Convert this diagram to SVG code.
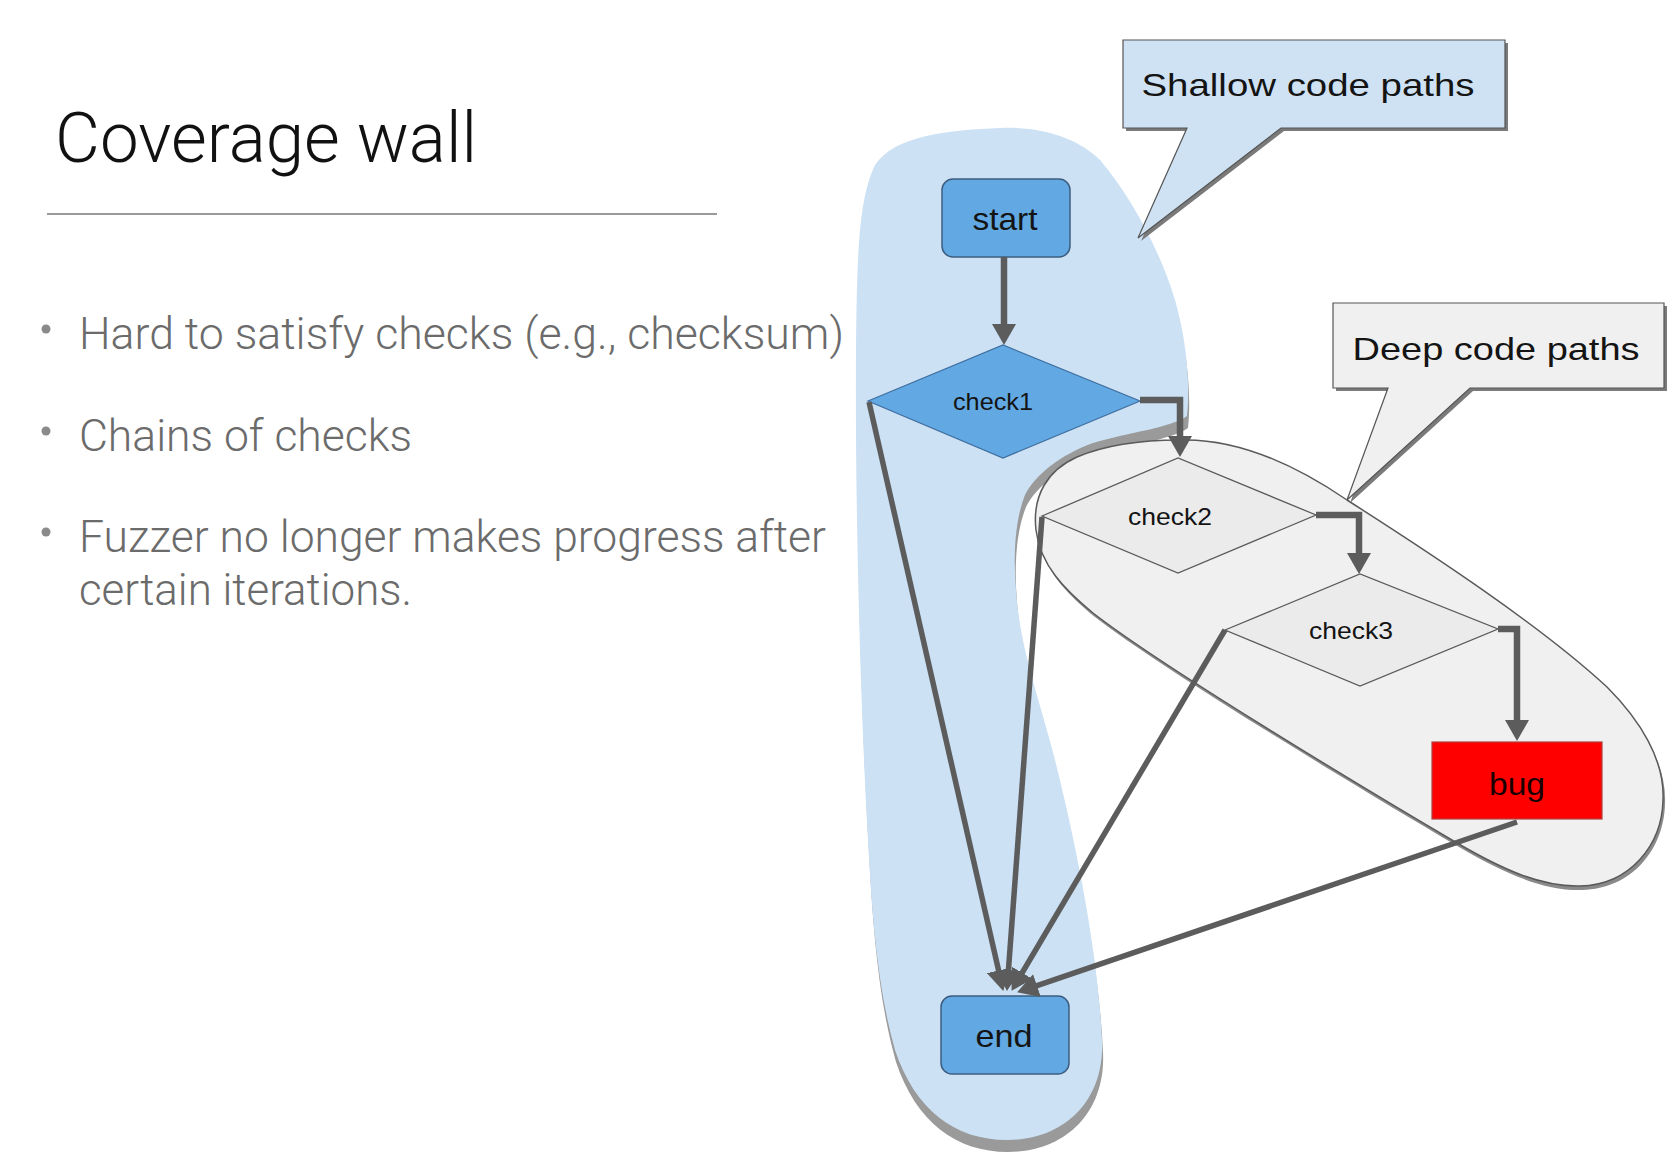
<svg xmlns="http://www.w3.org/2000/svg" width="1678" height="1164" viewBox="0 0 1678 1164">
<defs>
<style>
.title{font-family:Roboto,"Liberation Sans",sans-serif;font-weight:300;font-size:70px;fill:#111}
.bullet{font-family:Roboto,"Liberation Sans",sans-serif;font-weight:300;font-size:45px;fill:#6b6b6b}
.dot{fill:#8a8a8a}
.lbl{font-family:"Liberation Sans",Arial,sans-serif;fill:#141414;text-anchor:middle}
.blue{fill:#62a9e3;stroke:#3d5d80;stroke-width:1.5}
.dia{fill:#ebebeb;stroke:#5a5a5a;stroke-width:1.3}
.edge{fill:none;stroke:#5c5c5c;stroke-linejoin:miter}
.elbow{stroke-width:6.5}
.diag{stroke-width:5.5}
</style>
<marker id="arr" markerUnits="userSpaceOnUse" markerWidth="24" markerHeight="24" refX="10" refY="12" orient="auto">
<path d="M0,0 L21,12 L0,24 z" fill="#5c5c5c"/>
</marker>
</defs>
<rect width="1678" height="1164" fill="#fff"/>

<g id="slide-text">
<text class="title" x="55" y="162" textLength="422" lengthAdjust="spacingAndGlyphs">Coverage wall</text>
<line x1="47" y1="214" x2="717" y2="214" stroke="#9a9a9a" stroke-width="2"/>
<circle class="dot" cx="46" cy="329" r="4.5"/>
<text class="bullet" x="79" y="349" textLength="765" lengthAdjust="spacingAndGlyphs">Hard to satisfy checks (e.g., checksum)</text>
<circle class="dot" cx="46" cy="431" r="4.5"/>
<text class="bullet" x="79" y="451" textLength="333" lengthAdjust="spacingAndGlyphs">Chains of checks</text>
<circle class="dot" cx="46" cy="532" r="4.5"/>
<text class="bullet" x="79" y="552" textLength="747" lengthAdjust="spacingAndGlyphs">Fuzzer no longer makes progress after</text>
<text class="bullet" x="79" y="605" textLength="333" lengthAdjust="spacingAndGlyphs">certain iterations.</text>
</g>

<g id="region-shallow">
<path transform="translate(1,12)" fill="#9a9a9a" d="M1000,128 C1045,126 1080,140 1100,160 C1130,195 1160,250 1175,300 C1188,345 1190,390 1187,416 C1170,428 1130,432 1093,443 C1060,455 1035,475 1025,495 C1015,520 1013,555 1016,590 C1020,650 1040,700 1055,760 C1075,840 1098,950 1102,1040 C1105,1100 1065,1140 1007,1140 C955,1140 915,1110 895,1050 C878,990 872,920 868,840 C860,700 855,500 856,350 C857,260 858,200 875,165 C895,135 950,130 1000,128 Z"/>
<path fill="#cce1f4" d="M1000,128 C1045,126 1080,140 1100,160 C1130,195 1160,250 1175,300 C1188,345 1190,390 1187,416 C1170,428 1130,432 1093,443 C1060,455 1035,475 1025,495 C1015,520 1013,555 1016,590 C1020,650 1040,700 1055,760 C1075,840 1098,950 1102,1040 C1105,1100 1065,1140 1007,1140 C955,1140 915,1110 895,1050 C878,990 872,920 868,840 C860,700 855,500 856,350 C857,260 858,200 875,165 C895,135 950,130 1000,128 Z"/>
</g>

<g id="region-deep">
<path transform="translate(2,4)" fill="#8a8a8a" d="M1180,440 C1240,438 1300,468 1347,500 C1430,553 1540,625 1607,687 C1640,720 1665,760 1663,800 C1662,845 1630,885 1580,886 C1540,887 1500,868 1457,843 C1350,780 1160,665 1093,613 C1065,590 1040,565 1036,530 C1032,495 1048,470 1077,457 C1110,443 1150,440 1180,440 Z"/>
<path fill="#f0f0f0" stroke="#5a5a5a" stroke-width="1.5" d="M1180,440 C1240,438 1300,468 1347,500 C1430,553 1540,625 1607,687 C1640,720 1665,760 1663,800 C1662,845 1630,885 1580,886 C1540,887 1500,868 1457,843 C1350,780 1160,665 1093,613 C1065,590 1040,565 1036,530 C1032,495 1048,470 1077,457 C1110,443 1150,440 1180,440 Z"/>
</g>

<g id="callout-shallow">
<path transform="translate(3,3)" fill="#7a7a7a" d="M1123,40 H1505 V128 H1281 L1138,238 L1187,128 H1123 Z"/>
<path fill="#cfe2f3" stroke="#555" stroke-width="1.2" d="M1123,40 H1505 V128 H1281 L1138,238 L1187,128 H1123 Z"/>
<text class="lbl" x="1308" y="96" font-size="32" textLength="333" lengthAdjust="spacingAndGlyphs">Shallow code paths</text>
</g>

<g id="callout-deep">
<path transform="translate(3,3)" fill="#7a7a7a" d="M1333,303 H1664 V388 H1470 L1347,500 L1388,388 H1333 Z"/>
<path fill="#f0f0f0" stroke="#555" stroke-width="1.2" d="M1333,303 H1664 V388 H1470 L1347,500 L1388,388 H1333 Z"/>
<text class="lbl" x="1496" y="360" font-size="32" textLength="287" lengthAdjust="spacingAndGlyphs">Deep code paths</text>
</g>

<g id="node-start">
<rect class="blue" x="942" y="179" width="128" height="78" rx="11"/>
<text class="lbl" x="1005" y="230" font-size="32" textLength="65" lengthAdjust="spacingAndGlyphs">start</text>
</g>

<g id="node-check1">
<polygon class="blue" points="868,401 1003,345 1140,401 1003,458" style="stroke:#3f6fa0;stroke-width:1.2"/>
<text class="lbl" x="993" y="410" font-size="24" textLength="80" lengthAdjust="spacingAndGlyphs">check1</text>
</g>

<g id="node-check2">
<polygon class="dia" points="1042,516 1178,458 1316,515 1178,573"/>
<text class="lbl" x="1170" y="525" font-size="24" textLength="84" lengthAdjust="spacingAndGlyphs">check2</text>
</g>

<g id="node-check3">
<polygon class="dia" points="1225,630 1360,574 1498,629 1360,686"/>
<text class="lbl" x="1351" y="639" font-size="24" textLength="84" lengthAdjust="spacingAndGlyphs">check3</text>
</g>

<g id="node-bug">
<rect x="1432" y="742" width="170" height="77" fill="#ff0000" stroke="#b04040" stroke-width="1.2"/>
<text class="lbl" x="1517" y="795" font-size="32" textLength="56" lengthAdjust="spacingAndGlyphs" style="fill:#1a0000">bug</text>
</g>

<g id="node-end">
<rect class="blue" x="941" y="996" width="128" height="78" rx="11"/>
<text class="lbl" x="1004" y="1047" font-size="32" textLength="57" lengthAdjust="spacingAndGlyphs">end</text>
</g>

<g id="connectors">
<path class="edge elbow" marker-end="url(#arr)" d="M1004,257 L1004,334"/>
<path class="edge elbow" marker-end="url(#arr)" d="M1140,400 L1180,400 L1180,446"/>
<path class="edge elbow" marker-end="url(#arr)" d="M1316,515 L1359,515 L1359,563"/>
<path class="edge elbow" marker-end="url(#arr)" d="M1498,629 L1517,629 L1517,730"/>
<path class="edge diag" marker-end="url(#arr)" d="M869,402 L1000.8,980.2"/>
<path class="edge diag" marker-end="url(#arr)" d="M1042,517 L1007.7,980"/>
<path class="edge diag" marker-end="url(#arr)" d="M1225,630 L1017.1,981.4"/>
<path class="edge diag" marker-end="url(#arr)" d="M1517,822 L1027.5,988.8"/>
</g>
</svg>
